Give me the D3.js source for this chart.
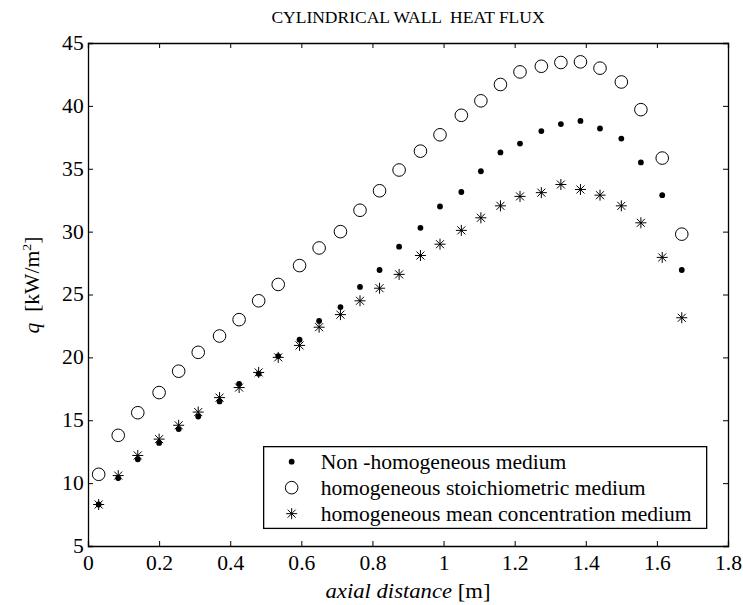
<!DOCTYPE html>
<html>
<head>
<meta charset="utf-8">
<script src="https://cdn.jsdelivr.net/npm/d3@7"></script>
<style>
  body { margin: 0; background: #fff; }
  svg text { font-family: "Liberation Serif", "Times New Roman", serif; fill: #000; }
</style>
</head>
<body>
<div id="chart"></div>
<script>
// Data
const xValues = [0.03, 0.085, 0.14, 0.2, 0.255, 0.31, 0.37, 0.425, 0.48, 0.535,
  0.595, 0.65, 0.71, 0.765, 0.82, 0.875, 0.935, 0.99, 1.05, 1.105,
  1.16, 1.215, 1.275, 1.33, 1.385, 1.44, 1.5, 1.555, 1.615, 1.67];

const nonHomogeneous = [8.3, 10.4, 11.9, 13.2, 14.3, 15.3, 16.5, 17.9, 18.7, 20.1,
  21.4, 22.9, 24.0, 25.6, 26.95, 28.8, 30.3, 32.0, 33.15, 34.8,
  36.3, 37.0, 38.0, 38.55, 38.8, 38.2, 37.4, 35.5, 32.9, 26.95];

const stoichiometric = [10.7, 13.8, 15.6, 17.2, 18.9, 20.4, 21.7, 23.0, 24.5, 25.8,
  27.3, 28.7, 30.0, 31.7, 33.25, 34.9, 36.4, 37.7, 39.25, 40.4,
  41.7, 42.7, 43.15, 43.45, 43.5, 43.0, 41.9, 39.7, 35.85, 29.8];

const meanConcentration = [8.3, 10.6, 12.2, 13.5, 14.6, 15.65, 16.8, 17.6, 18.8, 20.0,
  20.95, 22.4, 23.4, 24.5, 25.5, 26.6, 28.1, 29.0, 30.1, 31.1,
  32.05, 32.8, 33.1, 33.75, 33.35, 32.9, 32.05, 30.7, 27.95, 23.15];

const xTicks = [0, 0.2, 0.4, 0.6, 0.8, 1, 1.2, 1.4, 1.6, 1.8];
const yTicks = [5, 10, 15, 20, 25, 30, 35, 40, 45];

const seriesNames = ["Non -homogeneous medium",
  "homogeneous stoichiometric medium",
  "homogeneous mean concentration medium"];

////////////////////////////////////////////////////////////////
const width = 743, height = 605;
const margin = { top: 43, right: 15, bottom: 59, left: 88 };
const serif = '"Liberation Serif", "Times New Roman", serif';
const stretch = 1.08; // reference text is a little wide

const x = d3.scaleLinear([0, 1.8], [margin.left, width - margin.right]);
const y = d3.scaleLinear([5, 45], [height - margin.bottom, margin.top]);

const svg = d3.select("#chart").append("svg")
  .attr("width", width)
  .attr("height", height);

// axes box with inward ticks
const tickLen = 5;
const fmt = d => String(d);

const gBottom = svg.append("g")
  .attr("transform", `translate(0,${y(5)})`)
  .call(d3.axisBottom(x).tickValues(xTicks).tickFormat(fmt).tickSize(-tickLen).tickPadding(10));
const gTop = svg.append("g")
  .attr("transform", `translate(0,${y(45)})`)
  .call(d3.axisTop(x).tickValues(xTicks).tickFormat("").tickSize(-tickLen));
const gLeft = svg.append("g")
  .attr("transform", `translate(${x(0)},0)`)
  .call(d3.axisLeft(y).tickValues(yTicks).tickFormat(fmt).tickSize(-tickLen).tickPadding(4));
const gRight = svg.append("g")
  .attr("transform", `translate(${x(1.8)},0)`)
  .call(d3.axisRight(y).tickValues(yTicks).tickFormat("").tickSize(-tickLen));

[gBottom, gTop, gLeft, gRight].forEach(g => {
  g.attr("font-family", serif).attr("font-size", 20);
  g.select(".domain").attr("stroke", "#000").attr("stroke-width", 1.3);
  g.selectAll(".tick line").attr("stroke", "#000");
  g.selectAll(".tick text")
    .style("font-family", serif)
    .style("font-size", "20px")
    .attr("transform", `scale(${stretch},1)`);
});
// hide end ticks that overlap the box
gBottom.selectAll(".tick").filter(d => d === 0 || d === 1.8).select("line").remove();
gTop.selectAll(".tick").filter(d => d === 0 || d === 1.8).select("line").remove();
gLeft.selectAll(".tick").filter(d => d === 5 || d === 45).select("line").remove();
gRight.selectAll(".tick").filter(d => d === 5 || d === 45).select("line").remove();

// markers
const dotSymbol = (g, cx, cy) => g.append("circle")
  .attr("cx", cx).attr("cy", cy).attr("r", 2.9).attr("fill", "#000");
const circleSymbol = (g, cx, cy) => g.append("circle")
  .attr("cx", cx).attr("cy", cy).attr("r", 6.3)
  .attr("fill", "none").attr("stroke", "#000").attr("stroke-width", 1);
const starSymbol = (g, cx, cy) => {
  const s = 5.5, d = 4;
  g.append("path")
    .attr("d", `M${cx - s},${cy}H${cx + s}M${cx},${cy - s}V${cy + s}` +
      `M${cx - d},${cy - d}L${cx + d},${cy + d}M${cx - d},${cy + d}L${cx + d},${cy - d}`)
    .attr("stroke", "#000").attr("stroke-width", 1).attr("fill", "none");
};

const series = [
  { values: nonHomogeneous, draw: dotSymbol },
  { values: stoichiometric, draw: circleSymbol },
  { values: meanConcentration, draw: starSymbol }
];

const marks = svg.append("g");
series.forEach(s => {
  const g = marks.append("g");
  xValues.forEach((xv, i) => s.draw(g, x(xv), y(s.values[i])));
});

// legend
const legend = svg.append("g");
const lx = x(0.494), ly = y(12.9);
const lw = x(1.74) - lx, lh = y(6.4) - ly;
legend.append("rect")
  .attr("x", lx).attr("y", ly).attr("width", lw).attr("height", lh)
  .attr("fill", "#fff").attr("stroke", "#000").attr("stroke-width", 1.3);
seriesNames.forEach((name, i) => {
  const cy = ly + 15 + i * 26;
  series[i].draw(legend, lx + 28, cy);
  legend.append("text")
    .attr("transform", `translate(${lx + 57},${cy}) scale(${stretch},1)`)
    .attr("dy", "0.35em")
    .style("font-size", "20px")
    .text(name);
});

// title
svg.append("text")
  .attr("transform", `translate(${(x(0) + x(1.8)) / 2},23)`)
  .attr("text-anchor", "middle")
  .style("font-size", "17.5px")
  .style("white-space", "pre")
  .text("CYLINDRICAL WALL  HEAT FLUX");

// x label
const xl = svg.append("text")
  .attr("transform", `translate(${(x(0) + x(1.8)) / 2},598) scale(${stretch},1)`)
  .attr("text-anchor", "middle")
  .style("font-size", "21px");
xl.append("tspan").style("font-style", "italic").text("axial distance");
xl.append("tspan").text(" [m]");

// y label
const yl = svg.append("text")
  .attr("transform", `translate(39,285) rotate(-90) scale(${stretch},1)`)
  .attr("text-anchor", "middle")
  .style("font-size", "20px")
  .style("white-space", "pre");
yl.append("tspan").style("font-style", "italic").text("q");
yl.append("tspan").text("  [kW/m");
yl.append("tspan").attr("dy", -8).style("font-size", "13px").text("2");
yl.append("tspan").attr("dy", 8).text("]");
</script>
</body>
</html>
